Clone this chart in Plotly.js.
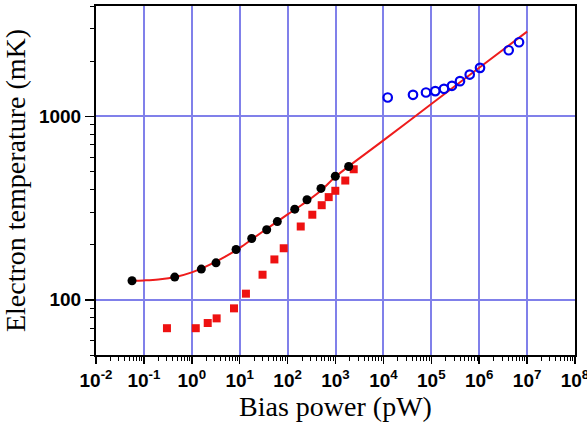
<!DOCTYPE html>
<html>
<head>
<meta charset="utf-8">
<script src="https://cdn.plot.ly/plotly-3.0.1.min.js"></script>
<style>html,body{margin:0;padding:0;background:#fff;} #chart{width:587px;height:428px;}</style>
</head>
<body>
<div id="chart"></div>
<script>
// Black circles (measured electron temperature)
var blackP = [0.0565, 0.44, 1.58, 3.2, 8.4, 17.8, 36.6, 61, 141, 254, 498, 991, 1885];
var blackT = [127, 133, 147, 159, 188, 216, 241, 267, 312, 351, 405, 472, 533];

// Red squares
var redP = [0.303, 1.21, 2.15, 3.3, 7.6, 13.5, 30, 53, 83, 188, 328, 515, 721, 991, 1600, 2400];
var redT = [70, 70, 74.7, 79.2, 89.8, 108, 137, 166, 191, 251, 291, 328, 363, 393, 447, 515];

// Blue open circles
var blueP = [12300, 41500, 77500, 121000, 184000, 270000, 397000, 634000, 1040000, 4130000, 6780000];
var blueT = [1268, 1312, 1350, 1374, 1414, 1468, 1557, 1691, 1840, 2295, 2537];

// Red fit curve
var fitP = [0.056, 0.1, 0.2, 0.5, 1, 2, 5, 10, 20, 50, 100, 200, 500, 1000, 10000, 100000, 1000000, 10000000];
var fitT = [127, 127.5, 129, 134, 141, 152, 172, 192, 218, 258, 292, 330, 395, 469, 740, 1168, 1843, 2900];

// Tick labels
var xTickVals = [0.01, 0.1, 1, 10, 100, 1000, 1e4, 1e5, 1e6, 1e7, 1e8];
var xTickText = ['10<sup>-2</sup>', '10<sup>-1</sup>', '10<sup>0</sup>', '10<sup>1</sup>', '10<sup>2</sup>', '10<sup>3</sup>',
                 '10<sup>4</sup>', '10<sup>5</sup>', '10<sup>6</sup>', '10<sup>7</sup>', '10<sup>8</sup>'];
var yTickVals = [100, 1000];
var yTickText = ['100', '1000'];

var traces = [
  {x: fitP, y: fitT, type: 'scatter', mode: 'lines', line: {color: '#ee1c1c', width: 2, shape: 'spline'}, hoverinfo: 'none'},
  {x: redP, y: redT, type: 'scatter', mode: 'markers', marker: {symbol: 'square', size: 8, color: '#ee1111'}},
  {x: blackP, y: blackT, type: 'scatter', mode: 'markers', marker: {symbol: 'circle', size: 9, color: '#000000'}},
  {x: blueP, y: blueT, type: 'scatter', mode: 'markers', marker: {symbol: 'circle-open', size: 8.5, color: '#0000ee', line: {width: 2.2, color: '#0000ee'}}}
];

var xTickFont = {family: 'Liberation Sans, Arial, sans-serif', size: 19, color: '#000', weight: 'bold'};
var yTickFont = {family: 'Liberation Sans, Arial, sans-serif', size: 19, color: '#000', weight: 'bold'};
var titleFont = {family: 'Liberation Serif, Times New Roman, serif', size: 28, color: '#000'};
var gridBlue = 'rgb(128,128,234)';

var layout = {
  width: 587, height: 428,
  margin: {l: 96, r: 12, t: 6, b: 73},
  paper_bgcolor: '#fff', plot_bgcolor: '#fff',
  showlegend: false,
  xaxis: {
    type: 'log', range: [-2, 8], tickmode: 'array', tickvals: xTickVals, ticktext: xTickText,
    ticklabeloverflow: 'allow',
    showline: true, linecolor: '#000', linewidth: 2, mirror: true,
    ticks: 'outside', ticklen: 7, tickwidth: 1.5, tickcolor: '#000',
    showgrid: true, gridcolor: gridBlue, gridwidth: 2,
    zeroline: false,
    tickfont: xTickFont,
    minor: {ticks: 'outside', ticklen: 4, tickwidth: 1, tickcolor: '#000', dtick: 'D1', showgrid: false},
    title: {text: 'Bias power (pW)', font: titleFont, standoff: 4}
  },
  yaxis: {
    type: 'log', range: [Math.log10(50), Math.log10(4000)],
    tickmode: 'array', tickvals: yTickVals, ticktext: yTickText,
    showline: true, linecolor: '#000', linewidth: 2, mirror: true,
    ticks: 'outside', ticklen: 9, tickwidth: 1.5, tickcolor: '#000',
    showgrid: true, gridcolor: gridBlue, gridwidth: 2,
    zeroline: false,
    tickfont: yTickFont,
    minor: {ticks: 'outside', ticklen: 4, tickwidth: 1, tickcolor: '#000', dtick: 'D1', showgrid: false},
    title: {text: 'Electron temperature (mK)', font: titleFont, standoff: 6}
  }
};

Plotly.newPlot('chart', traces, layout, {staticPlot: true, displayModeBar: false});
</script>
</body>
</html>
